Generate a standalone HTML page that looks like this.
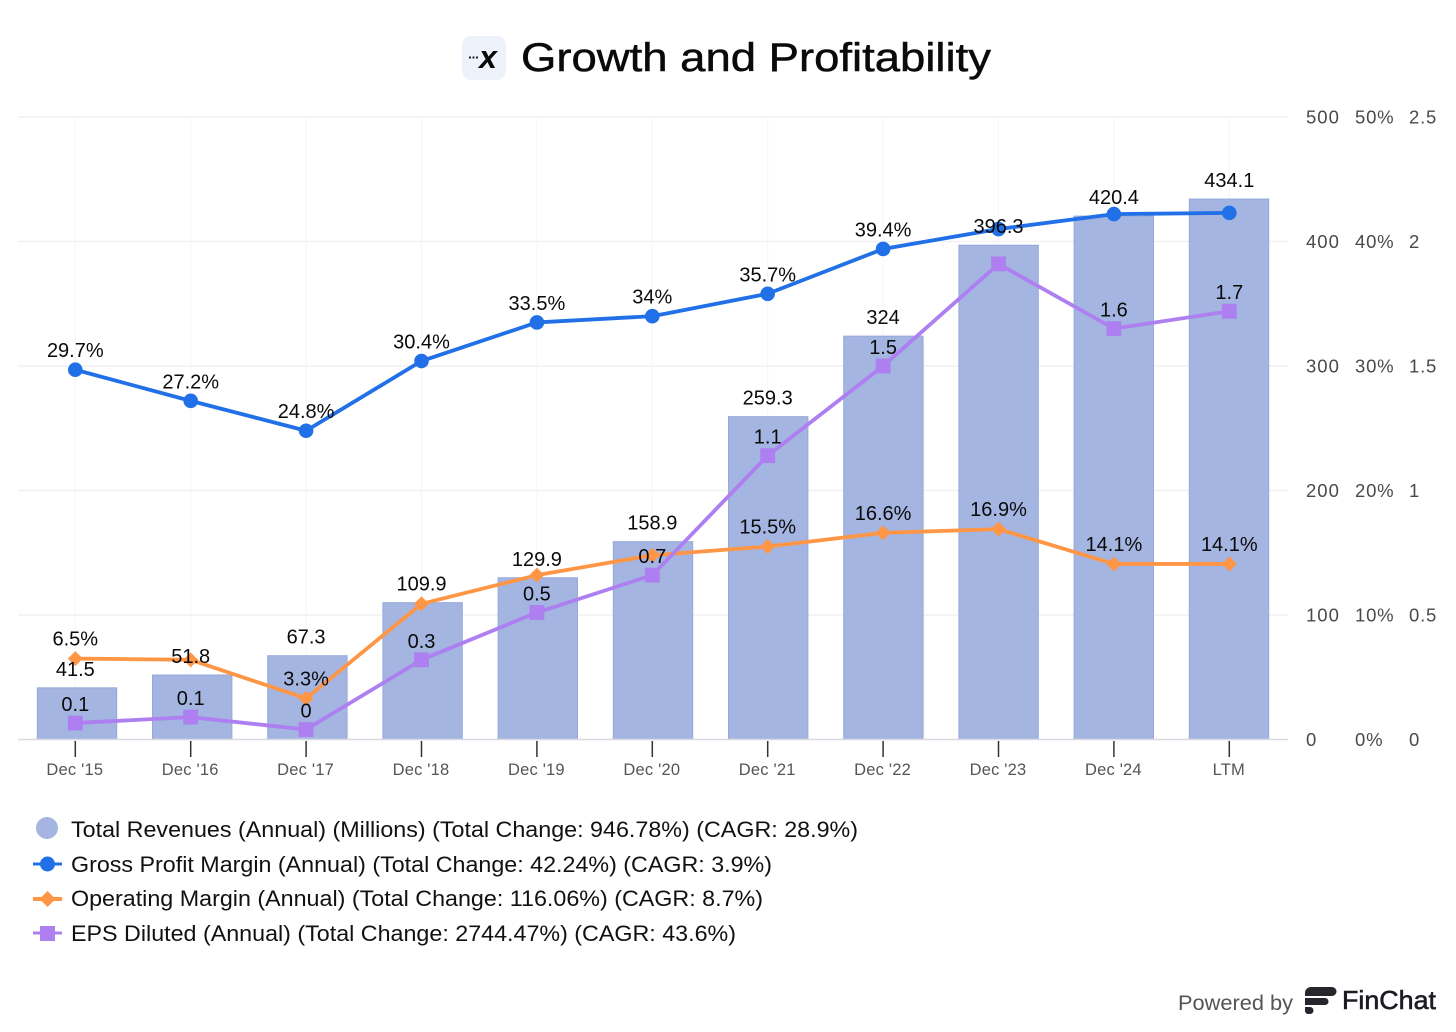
<!DOCTYPE html>
<html lang="en">
<head>
<meta charset="utf-8">
<title>Growth and Profitability</title>
<style>
html,body{margin:0;padding:0;background:#fff;width:1456px;height:1032px;overflow:hidden}
svg{display:block;font-family:"Liberation Sans",sans-serif}
</style>
</head>
<body>
<svg id="chart" xmlns="http://www.w3.org/2000/svg" width="1456" height="1032" viewBox="0 0 1456 1032">
  <rect width="1456" height="1032" fill="#ffffff"/>
  <g>
    <rect x="462" y="36" width="44" height="44" rx="9" fill="#eef2fa"/>
    <text x="488" y="68" font-size="32" font-weight="700" font-style="italic" text-anchor="middle" fill="#0a0a0a">x</text>
    <rect x="469" y="56.500" width="2" height="2" fill="#222"/>
    <rect x="472.500" y="56.500" width="2" height="2" fill="#222"/>
    <rect x="476" y="56.500" width="2" height="2" fill="#222"/>
    <text x="521" y="71" font-size="40" textLength="470" lengthAdjust="spacingAndGlyphs" fill="#0a0a0a" stroke="#0a0a0a" stroke-width="0.5">Growth and Profitability</text>
  </g>
  <g id="plot"></g>
  <g font-size="22.3" fill="#111">
    <g>
      <circle cx="47" cy="828" r="11" fill="#a3b5e0"/>
      <text x="71" y="837" textLength="787" lengthAdjust="spacingAndGlyphs">Total Revenues (Annual) (Millions) (Total Change: 946.78%) (CAGR: 28.9%)</text>
    </g>
    <g>
      <line x1="33" x2="62" y1="864" y2="864" stroke="#2170e8" stroke-width="3"/>
      <circle cx="47.500" cy="864" r="7.500" fill="#2170e8"/>
      <text x="71" y="872" textLength="701" lengthAdjust="spacingAndGlyphs">Gross Profit Margin (Annual) (Total Change: 42.24%) (CAGR: 3.9%)</text>
    </g>
    <g>
      <line x1="33" x2="62" y1="899" y2="899" stroke="#ff9645" stroke-width="4"/>
      <polygon points="47.500,891 55.500,899 47.500,907 39.500,899" fill="#ff9645"/>
      <text x="71" y="906" textLength="692" lengthAdjust="spacingAndGlyphs">Operating Margin (Annual) (Total Change: 116.06%) (CAGR: 8.7%)</text>
    </g>
    <g>
      <line x1="33" x2="62" y1="933" y2="933" stroke="#ad7ff0" stroke-width="3"/>
      <rect x="40" y="926" width="15" height="15" fill="#ad7ff0"/>
      <text x="71" y="941" textLength="665" lengthAdjust="spacingAndGlyphs">EPS Diluted (Annual) (Total Change: 2744.47%) (CAGR: 43.6%)</text>
    </g>
  </g>
  <g>
    <text x="1178" y="1010" font-size="21" textLength="115" lengthAdjust="spacingAndGlyphs" fill="#555">Powered by</text>
    <path d="M1305 993a6 6 0 0 1 6-6h21a3 3 0 0 1 0 9h-27z" fill="#26262c"/>
    <path d="M1305 998h20a3.500 3.500 0 0 1 0 7h-20z" fill="#26262c"/>
    <path d="M1305 1007h5a3.500 3.500 0 0 1 0 7h-2a3 3 0 0 1-3-3z" fill="#26262c"/>
    <text x="1342" y="1009" font-size="26" textLength="94" lengthAdjust="spacingAndGlyphs" fill="#1c1c22" stroke="#1c1c22" stroke-width="0.6">FinChat</text>
  </g>
</svg>
<script>
const categories = ["Dec '15","Dec '16","Dec '17","Dec '18","Dec '19","Dec '20","Dec '21","Dec '22","Dec '23","Dec '24","LTM"];
const revenues = [41.5,51.8,67.3,109.9,129.9,158.9,259.3,324,397,420.4,434.1];
const grossMargin = [29.7,27.2,24.8,30.4,33.5,34,35.8,39.4,41.0,42.2,42.3];
const operatingMargin = [6.5,6.4,3.3,10.9,13.2,14.8,15.5,16.6,16.9,14.1,14.1];
const epsDiluted = [0.066,0.09,0.04,0.32,0.51,0.66,1.14,1.5,1.91,1.65,1.72];
const revenueLabels = ["41.5","51.8","67.3","109.9","129.9","158.9","259.3","324","396.3","420.4","434.1"];
const grossLabels = ["29.7%","27.2%","24.8%","30.4%","33.5%","34%","35.7%","39.4%",null,null,null];
const operatingLabels = ["6.5%",null,"3.3%",null,null,null,"15.5%","16.6%","16.9%","14.1%","14.1%"];
const epsLabels = ["0.1","0.1","0","0.3","0.5","0.7","1.1","1.5",null,"1.6","1.7"];
const revenueTicks = [0,100,200,300,400,500];
const marginTicks = ["0%","10%","20%","30%","40%","50%"];
const epsTicks = ["0","0.5","1","1.5","2","2.5"];

const NS = 'http://www.w3.org/2000/svg';
const plot = document.getElementById('plot');
const yBase = 739.5, yTop = 117, xFirst = 75.3, xStep = 115.4;
const barFirst = 77, barStep = 115.2, barWidth = 79.4;
const xAt = i => xFirst + xStep * i;
const barX = i => barFirst + barStep * i;
const yAt = (v, max) => yBase - (v / max) * (yBase - yTop);
const yRev = v => yAt(v, 500);
const yMargin = v => yAt(v, 50);
const yEps = v => yAt(v, 2.5);

function mk(tag, attrs, text) {
  const el = document.createElementNS(NS, tag);
  for (const k in attrs) el.setAttribute(k, attrs[k]);
  if (text !== undefined) el.textContent = text;
  plot.appendChild(el);
  return el;
}

revenueTicks.forEach((t, i) => {
  const y = yRev(t);
  if (i > 0) {
    const g = mk('line', {x1: 18, x2: 1288, y1: y, y2: y, stroke: '#f1f1f3', 'stroke-width': 1.5});
    
    
  }
  const a = mk('text', {x: 1306, y: y + 6.5, 'font-size': 18.5, 'letter-spacing': 1, fill: '#4a4a4a'}, String(t));
  
  
  const b = mk('text', {x: 1355, y: y + 6.5, 'font-size': 18.5, 'letter-spacing': 0.8, fill: '#4a4a4a'}, marginTicks[i]);
  
  
  const c = mk('text', {x: 1409, y: y + 6.5, 'font-size': 18.5, 'letter-spacing': 0.8, fill: '#4a4a4a'}, epsTicks[i]);
  
  
});

categories.forEach((cat, i) => {
  const x = xAt(i);
  const g = mk('line', {x1: x, x2: x, y1: yTop, y2: yBase, stroke: '#f5f5f6', 'stroke-width': 1});
  
  
});

revenues.forEach((v, i) => {
  const top = yRev(v);
  const b = mk('rect', {x: barX(i) - barWidth / 2, y: top, width: barWidth, height: yBase - top, fill: '#a3b5e0', stroke: '#95a9da', 'stroke-width': 1});
  
  
});

const axisLine = mk('line', {x1: 18, x2: 1288, y1: yBase, y2: yBase, stroke: '#d9d9e3', 'stroke-width': 1.5});



categories.forEach((cat, i) => {
  const x = xAt(i);
  const t = mk('line', {x1: x, x2: x, y1: 741, y2: 757, stroke: '#333', 'stroke-width': 1.5});
  
  
  const l = mk('text', {x: x - 0.5, y: 775, 'font-size': 16.5, 'letter-spacing': 0.2, 'text-anchor': 'middle', fill: '#555'}, cat);
  
  
});

function drawLine(values, yFn, color, width, name) {
  const pts = values.map((v, i) => xAt(i) + ',' + yFn(v)).join(' ');
  const p = mk('polyline', {points: pts, fill: 'none', stroke: color, 'stroke-width': width, 'stroke-linejoin': 'round'});
  
  
}

drawLine(grossMargin, yMargin, '#2170e8', 3.8, 'gross-margin-line');
grossMargin.forEach((v, i) => {
  const m = mk('circle', {cx: xAt(i), cy: yMargin(v), r: 7.3, fill: '#2170e8'});
  
  
});

drawLine(operatingMargin, yMargin, '#ff9645', 3.8, 'operating-margin-line');
operatingMargin.forEach((v, i) => {
  const x = xAt(i), y = yMargin(v), d = 7.5;
  const m = mk('polygon', {points: [x, y - d, x + d, y, x, y + d, x - d, y].join(' '), fill: '#ff9645'});
  
  
});

drawLine(epsDiluted, yEps, '#ad7ff0', 3.8, 'eps-line');
epsDiluted.forEach((v, i) => {
  const m = mk('rect', {x: xAt(i) - 7.4, y: yEps(v) - 7.4, width: 14.8, height: 14.8, fill: '#ad7ff0'});
  
  
});

function drawLabels(labels, values, yFn, dy, name) {
  labels.forEach((txt, i) => {
    if (txt === null) return;
    const l = mk('text', {x: xAt(i), y: yFn(values[i]) - dy, 'font-size': 20, 'text-anchor': 'middle', fill: '#0a0a0a'}, txt);
    
    
  });
}
drawLabels(revenueLabels, revenues, yRev, 12, 'revenue-value-label');
drawLabels(grossLabels, grossMargin, yMargin, 12.5, 'gross-margin-value-label');
drawLabels(operatingLabels, operatingMargin, yMargin, 13, 'operating-margin-value-label');
drawLabels(epsLabels, epsDiluted, yEps, 12, 'eps-value-label');
</script>
</body>
</html>
